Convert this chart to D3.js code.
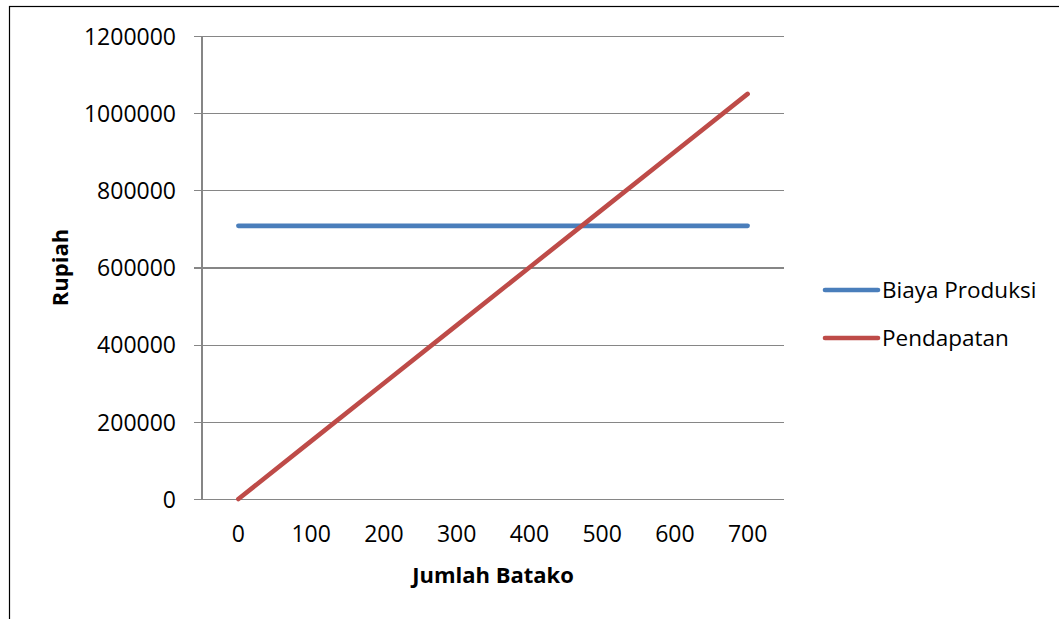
<!DOCTYPE html>
<html>
<head>
<meta charset="utf-8">
<script src="https://cdn.jsdelivr.net/npm/d3@7"></script>
<style>
  html, body { margin: 0; padding: 0; background: #fff; }
  svg { display: block; }
  text { font-family: "Open Sans", "Liberation Sans", sans-serif; fill: #000; }
</style>
</head>
<body>
<svg id="chart" width="1059" height="619"></svg>
<script>
// Break-even data: quantity of bricks vs. rupiah
const jumlahBatako = [0, 100, 200, 300, 400, 500, 600, 700];
const biayaProduksi = [708000, 708000, 708000, 708000, 708000, 708000, 708000, 708000];
const pendapatan = [0, 150000, 300000, 450000, 600000, 750000, 900000, 1050000];
const yTicks = [0, 200000, 400000, 600000, 800000, 1000000, 1200000];
const seriesNames = ["Biaya Produksi", "Pendapatan"];
const seriesColors = ["#4A7EBB", "#BE4B48"];

const svg = d3.select("#chart");
const W = 1059, H = 619;

// outer chart frame (extends past the visible edges)
svg.append("rect")
  .attr("x", 9.5).attr("y", 6.5)
  .attr("width", W + 20).attr("height", H + 20)
  .attr("fill", "#fff").attr("stroke", "#000").attr("stroke-width", 1.2);

const plot = { left: 202, right: 784, top: 36, bottom: 499 };

const x = d3.scaleBand()
  .domain(jumlahBatako)
  .range([plot.left, plot.right])
  .paddingInner(0).paddingOuter(0);
const xc = d => x(d) + x.bandwidth() / 2;

const y = d3.scaleLinear()
  .domain([0, 1200000])
  .range([plot.bottom, plot.top]);

const gridColor = "#868686";

// horizontal gridlines with short outer tick
const yAxis = d3.axisLeft(y)
  .tickValues(yTicks)
  .tickSize(-(plot.right - plot.left))
  .tickPadding(18)
  .tickFormat(d3.format("d"));

const gy = svg.append("g")
  .attr("transform", `translate(${plot.left},0)`)
  .call(yAxis);
gy.select(".domain").remove();
gy.selectAll(".tick line")
  .attr("x1", -8)
  .attr("stroke", gridColor).attr("stroke-width", 1.3)
  .attr("shape-rendering", "crispEdges");
gy.selectAll(".tick text")
  .attr("x", -26)
  .style("font-size", "23px")
  .attr("dy", "0.36em");

// vertical axis line
svg.append("line")
  .attr("x1", plot.left).attr("x2", plot.left)
  .attr("y1", plot.top).attr("y2", plot.bottom)
  .attr("stroke", gridColor).attr("stroke-width", 1.3)
  .attr("shape-rendering", "crispEdges");

// category axis
const xAxis = d3.axisBottom(x).tickSize(0).tickPadding(0);
const gx = svg.append("g")
  .attr("transform", `translate(0,${plot.bottom})`)
  .call(xAxis);
gx.select(".domain").remove();
gx.selectAll(".tick text")
  .attr("y", 43)
  .attr("dy", 0)
  .style("font-size", "23px");

// axis titles
svg.append("text")
  .attr("x", (plot.left + plot.right) / 2)
  .attr("y", 583)
  .attr("text-anchor", "middle")
  .style("font-size", "22px")
  .style("font-weight", "bold")
  .text("Jumlah Batako");

svg.append("text")
  .attr("transform", `translate(68,${(plot.top + plot.bottom) / 2}) rotate(-90)`)
  .attr("text-anchor", "middle")
  .style("font-size", "22px")
  .style("font-weight", "bold")
  .text("Rupiah");

// series lines
const line = d3.line()
  .x((d, i) => xc(jumlahBatako[i]))
  .y(d => y(d));

[biayaProduksi, pendapatan].forEach((vals, i) => {
  svg.append("path")
    .datum(vals)
    .attr("d", line)
    .attr("fill", "none")
    .attr("stroke", seriesColors[i])
    .attr("stroke-width", 4.6)
    .attr("stroke-linecap", "round")
    .attr("stroke-linejoin", "round");
});

// legend
const legend = svg.append("g");
const legendY = [290, 338];
seriesNames.forEach((name, i) => {
  legend.append("line")
    .attr("x1", 825).attr("x2", 878)
    .attr("y1", legendY[i]).attr("y2", legendY[i])
    .attr("stroke", seriesColors[i])
    .attr("stroke-width", 4.6)
    .attr("stroke-linecap", "round");
  legend.append("text")
    .attr("x", 882)
    .attr("y", legendY[i])
    .attr("dy", "0.36em")
    .style("font-size", "22.5px")
    .text(name);
});
</script>
</body>
</html>
